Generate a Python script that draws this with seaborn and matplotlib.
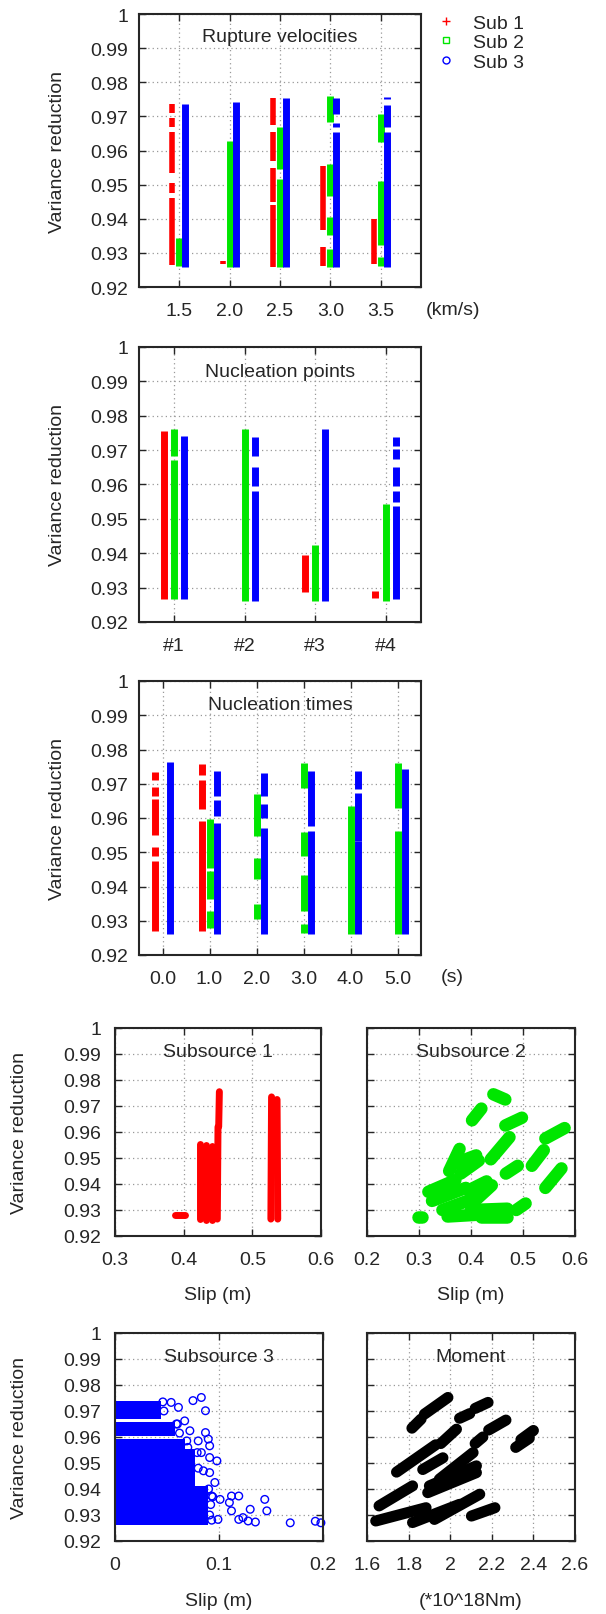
import matplotlib
matplotlib.use("Agg")
import matplotlib.pyplot as plt
import seaborn as sns
import pandas as pd
from matplotlib.lines import Line2D
from matplotlib.ticker import FuncFormatter

sns.set_style("ticks")
plt.rcParams["font.family"] = ["Liberation Sans", "DejaVu Sans"]
FS = 14
plt.rcParams["font.size"] = FS

RED, GREEN, BLUE = "#ff0000", "#00e600", "#0000ff"

# ---- rupture velocities: (lo, hi) runs of variance reduction per category
rv_x = [1.5, 2.0, 2.5, 3.0, 3.5]
rv_labels = ["1.5", "2.0", "2.5", "3.0", "3.5"]
rv_sub1 = [
    [(0.9265, 0.946), (0.9475, 0.9505), (0.9535, 0.9655), (0.967, 0.9695), (0.971, 0.9735)],
    [(0.9266, 0.9276)],
    [(0.926, 0.944), (0.945, 0.955), (0.957, 0.9655), (0.9675, 0.9755)],
    [(0.9263, 0.9317), (0.9366, 0.9556)],
    [(0.9268, 0.940)],
]
rv_sub2 = [
    [(0.9263, 0.9343)],
    [(0.9259, 0.9629)],
    [(0.926, 0.9517), (0.9546, 0.9668)],
    [(0.926, 0.931), (0.9351, 0.9405), (0.9468, 0.9561), (0.9683, 0.9761)],
    [(0.9263, 0.9288), (0.9322, 0.9512), (0.9624, 0.9707)],
]
rv_sub3 = [
    [(0.9259, 0.9737)],
    [(0.9259, 0.9741)],
    [(0.926, 0.9753)],
    [(0.926, 0.9654), (0.9668, 0.968), (0.9707, 0.9755)],
    [(0.926, 0.9654), (0.9668, 0.9734), (0.975, 0.9758)],
]

# ---- nucleation points
np_x = [1, 2, 3, 4]
np_labels = ["#1", "#2", "#3", "#4"]
np_sub1 = [[(0.9266, 0.9757)], [], [(0.9286, 0.9394)], [(0.9271, 0.929)]]
np_sub2 = [[(0.9266, 0.967), (0.9684, 0.9762)], [(0.9261, 0.9762)],
           [(0.9261, 0.9424)], [(0.9261, 0.9543)]]
np_sub3 = [[(0.9266, 0.9742)],
           [(0.9261, 0.9582), (0.9597, 0.965), (0.9684, 0.9738)],
           [(0.9261, 0.9762)],
           [(0.9266, 0.9538), (0.9548, 0.958), (0.9597, 0.965), (0.9674, 0.9704), (0.9713, 0.9738)]]

# ---- nucleation times
nt_x = [0, 1, 2, 3, 4, 5]
nt_labels = ["0.0", "1.0", "2.0", "3.0", "4.0", "5.0"]
nt_sub1 = [[(0.927, 0.9475), (0.949, 0.9515), (0.955, 0.9655), (0.9665, 0.969), (0.971, 0.9735)],
           [(0.927, 0.959), (0.9625, 0.971), (0.9725, 0.9757)],
           [], [], [], []]
nt_sub2 = [[],
           [(0.928, 0.9328), (0.9363, 0.9445), (0.9455, 0.9596)],
           [(0.9304, 0.9348), (0.9421, 0.9484), (0.9547, 0.9669)],
           [(0.9265, 0.929), (0.9328, 0.9435), (0.9489, 0.9559), (0.9689, 0.9761)],
           [(0.926, 0.9635)],
           [(0.926, 0.9562), (0.963, 0.9761)]]
nt_sub3 = [[(0.926, 0.9763)],
           [(0.926, 0.9586), (0.9606, 0.9654), (0.9664, 0.9737)],
           [(0.926, 0.9572), (0.960, 0.964), (0.9664, 0.9732)],
           [(0.926, 0.9562), (0.9577, 0.9737)],
           [(0.926, 0.9533), (0.9533, 0.9674), (0.9684, 0.9737)],
           [(0.926, 0.9742)]]

# ---- subsource 1: slip runs (x0, y0, x1, y1)
s1_runs = [
    (0.388, 0.928, 0.402, 0.928),
    (0.424, 0.9265, 0.424, 0.9555),
    (0.433, 0.9262, 0.433, 0.955),
    (0.441, 0.9262, 0.441, 0.9545),
    (0.449, 0.9265, 0.450, 0.962),
    (0.451, 0.962, 0.452, 0.9755),
    (0.527, 0.9265, 0.528, 0.9735),
    (0.537, 0.9265, 0.536, 0.9725),
]

# ---- subsource 2: clusters (x0, y0, x1, y1)
s2_runs = [
    (0.298, 0.9275, 0.305, 0.9275),
    (0.443, 0.9745, 0.466, 0.9725),
    (0.402, 0.9645, 0.420, 0.9690),
    (0.466, 0.9625, 0.498, 0.9655),
    (0.438, 0.9495, 0.474, 0.9580),
    (0.467, 0.9440, 0.490, 0.9470),
    (0.517, 0.9470, 0.540, 0.9530),
    (0.543, 0.9575, 0.580, 0.9615),
    (0.543, 0.9385, 0.574, 0.9460),
    (0.487, 0.9300, 0.505, 0.9325),
    (0.318, 0.9370, 0.370, 0.9415),
    (0.325, 0.9335, 0.390, 0.9385),
    (0.345, 0.9300, 0.400, 0.9340),
    (0.355, 0.9275, 0.440, 0.9285),
    (0.400, 0.9300, 0.470, 0.9305),
    (0.420, 0.9275, 0.470, 0.9275),
    (0.410, 0.9340, 0.440, 0.9395),
    (0.395, 0.9375, 0.430, 0.9410),
    (0.358, 0.9450, 0.378, 0.9535),
    (0.380, 0.9440, 0.415, 0.9490),
    (0.370, 0.9480, 0.410, 0.9510),
]

# ---- subsource 3: filled bands (lo, hi, max slip) and scattered solutions
s3_band_lo = [0.9670, 0.9605, 0.9553, 0.9412, 0.9262]
s3_band_hi = [0.9738, 0.9656, 0.9592, 0.9553, 0.9412]
s3_band_xmax = [0.044, 0.058, 0.067, 0.077, 0.089]
s3_x = [0.054, 0.061, 0.075, 0.083, 0.087, 0.059, 0.067, 0.072, 0.087, 0.0897,
        0.080, 0.091, 0.083, 0.091, 0.098, 0.085, 0.091, 0.096, 0.093, 0.101,
        0.112, 0.119, 0.110, 0.112, 0.099, 0.119, 0.123, 0.128, 0.135, 0.130,
        0.144, 0.146, 0.1685, 0.1926, 0.198,
        0.046, 0.047, 0.060, 0.062, 0.069, 0.070, 0.079, 0.080, 0.090, 0.092,
        0.091, 0.093, 0.094]
s3_y = [0.9733, 0.9714, 0.9740, 0.9752, 0.9701, 0.9650, 0.9662, 0.9624, 0.9617, 0.9592,
        0.9585, 0.9566, 0.9540, 0.9521, 0.9508, 0.9470, 0.9463, 0.9425, 0.9373, 0.9360,
        0.9373, 0.9373, 0.9348, 0.9316, 0.9283, 0.9283, 0.9290, 0.9277, 0.9273, 0.9322,
        0.9360, 0.9316, 0.9270, 0.9276, 0.9270,
        0.9735, 0.9700, 0.9650, 0.9615, 0.9585, 0.9560, 0.9540, 0.9480, 0.9400, 0.9340,
        0.9300, 0.9280, 0.9370]

# ---- moment clusters (x0, y0, x1, y1)
mo_runs = [
    (1.816, 0.9634, 1.860, 0.9669),
    (1.876, 0.9688, 1.989, 0.9752),
    (2.045, 0.9672, 2.094, 0.9690),
    (2.120, 0.9710, 2.182, 0.9733),
    (2.185, 0.9627, 2.268, 0.9665),
    (2.315, 0.9560, 2.380, 0.9595),
    (2.340, 0.9590, 2.400, 0.9625),
    (1.742, 0.9465, 1.930, 0.9570),
    (1.955, 0.9575, 2.030, 0.9630),
    (1.868, 0.9475, 1.965, 0.9520),
    (1.948, 0.9438, 2.110, 0.9540),
    (2.120, 0.9575, 2.157, 0.9600),
    (1.900, 0.9412, 2.126, 0.9489),
    (1.892, 0.9386, 2.126, 0.9463),
    (1.658, 0.9335, 1.819, 0.9412),
    (1.642, 0.9277, 1.884, 0.9328),
    (1.819, 0.9271, 2.045, 0.9341),
    (1.924, 0.9283, 2.142, 0.9380),
    (2.102, 0.9296, 2.215, 0.9328),
]

W, H = 606, 1615
fig = plt.figure(figsize=(W / 100, H / 100), dpi=100)


def box(l, r, t, b):
    return [l / W, 1 - b / H, (r - l) / W, (b - t) / H]


fmt = FuncFormatter(lambda v, p: "%g" % round(v, 4))


def style(ax, left_labels=True, ypad=8, xpad=11):
    ax.set_ylim(0.92, 1.0)
    ax.set_yticks([0.92 + 0.01 * i for i in range(9)])
    ax.yaxis.set_major_formatter(fmt)
    ax.grid(True, color="#999999", linestyle=(0, (1, 2.5)), linewidth=0.9)
    ax.set_axisbelow(True)
    for s in ax.spines.values():
        s.set_linewidth(1.5)
        s.set_visible(True)
    ax.tick_params(direction="in", length=5, width=1, top=True, right=True,
                   labelleft=left_labels, labelsize=FS)
    ax.tick_params(axis="y", pad=ypad)
    ax.tick_params(axis="x", pad=xpad)


def columns(ax, xs, groups, offsets, widths):
    for grp, off, col, lw in zip(groups, offsets, [RED, GREEN, BLUE], widths):
        for x, segs in zip(xs, grp):
            for lo, hi in segs:
                ax.vlines(x + off, lo, hi, colors=col, linewidth=lw)


def runs(ax, segs, col, lw):
    for x0, y0, x1, y1 in segs:
        ax.plot([x0, x1], [y0, y1], color=col, linewidth=lw, solid_capstyle="round")


# panel 1
ax1 = fig.add_axes(box(139, 421, 15, 288))
columns(ax1, rv_x, [rv_sub1, rv_sub2, rv_sub3], [-0.07, 0.0, 0.06], [4, 5, 5])
ax1.set_xlim(1.1, 3.9)
ax1.set_xticks(rv_x, rv_labels)
style(ax1)
ax1.text(0.5, 0.916, "Rupture velocities", transform=ax1.transAxes, ha="center", va="center")
ax1.text(1.113, -0.084, "(km/s)", transform=ax1.transAxes, ha="center", va="center")
ax1.set_ylabel("Variance reduction")
ax1.yaxis.set_label_coords(-0.26, 0.5)
handles = [
    Line2D([], [], ls="none", marker="+", color=RED, markersize=6, mew=1),
    Line2D([], [], ls="none", marker="s", color=GREEN, mfc="none", markersize=5, mew=1),
    Line2D([], [], ls="none", marker="o", color=BLUE, mfc="none", markersize=5, mew=1),
]
fig.legend(handles, ["Sub 1", "Sub 2", "Sub 3"], loc="upper left",
           bbox_to_anchor=(436 / W, 1 - 15 / H), bbox_transform=fig.transFigure,
           frameon=False, borderpad=0, borderaxespad=0, handlelength=1.0,
           handletextpad=0.9, labelspacing=0.1, fontsize=FS)

# panel 2
ax2 = fig.add_axes(box(139, 421, 348, 623))
columns(ax2, np_x, [np_sub1, np_sub2, np_sub3], [-0.15, 0.0, 0.14], [5, 5, 5])
ax2.set_xlim(0.5, 4.5)
ax2.set_xticks(np_x, np_labels)
style(ax2)
ax2.text(0.5, 0.91, "Nucleation points", transform=ax2.transAxes, ha="center", va="center")
ax2.set_ylabel("Variance reduction")
ax2.yaxis.set_label_coords(-0.26, 0.5)

# panel 3
ax3 = fig.add_axes(box(139, 421, 682, 956))
columns(ax3, nt_x, [nt_sub1, nt_sub2, nt_sub3], [-0.17, 0.0, 0.15], [5, 5, 5])
ax3.set_xlim(-0.5, 5.5)
ax3.set_xticks(nt_x, nt_labels)
style(ax3)
ax3.text(0.5, 0.913, "Nucleation times", transform=ax3.transAxes, ha="center", va="center")
ax3.text(1.11, -0.08, "(s)", transform=ax3.transAxes, ha="center", va="center")
ax3.set_ylabel("Variance reduction")
ax3.yaxis.set_label_coords(-0.26, 0.5)

# subsource 1
ax4 = fig.add_axes(box(115, 321, 1029, 1237))
runs(ax4, s1_runs, RED, 5)
ax4.set_xlim(0.3, 0.6)
ax4.set_xticks([0.3, 0.4, 0.5, 0.6])
ax4.xaxis.set_major_formatter(fmt)
style(ax4, ypad=10, xpad=11)
ax4.text(0.5, 0.885, "Subsource 1", transform=ax4.transAxes, ha="center", va="center")
ax4.text(0.5, -0.279, "Slip (m)", transform=ax4.transAxes, ha="center", va="center")
ax4.set_ylabel("Variance reduction")
ax4.yaxis.set_label_coords(-0.42, 0.5)

# subsource 2
ax5 = fig.add_axes(box(367, 575, 1029, 1237))
runs(ax5, s2_runs, GREEN, 9)
ax5.set_xlim(0.2, 0.6)
ax5.set_xticks([0.2, 0.3, 0.4, 0.5, 0.6])
ax5.xaxis.set_major_formatter(fmt)
style(ax5, left_labels=False, xpad=11)
ax5.text(0.5, 0.885, "Subsource 2", transform=ax5.transAxes, ha="center", va="center")
ax5.text(0.5, -0.279, "Slip (m)", transform=ax5.transAxes, ha="center", va="center")

# subsource 3
ax6 = fig.add_axes(box(115, 323, 1334, 1542))
for lo, hi, xm in zip(s3_band_lo, s3_band_hi, s3_band_xmax):
    ax6.fill_betweenx([lo, hi], 0, xm, color=BLUE, linewidth=0)
s3 = pd.DataFrame({"slip": s3_x, "vr": s3_y})
sns.scatterplot(data=s3, x="slip", y="vr", ax=ax6, marker="o", s=30,
                facecolor="none", edgecolor=BLUE, linewidth=1, clip_on=False)
ax6.set_xlim(0, 0.2)
ax6.set_xticks([0, 0.1, 0.2])
ax6.xaxis.set_major_formatter(fmt)
style(ax6, ypad=10, xpad=11)
ax6.set_xlabel("")
ax6.set_ylabel("Variance reduction")
ax6.yaxis.set_label_coords(-0.42, 0.5)
ax6.text(0.5, 0.885, "Subsource 3", transform=ax6.transAxes, ha="center", va="center")
ax6.text(0.5, -0.288, "Slip (m)", transform=ax6.transAxes, ha="center", va="center")

# moment
ax7 = fig.add_axes(box(367, 575, 1334, 1542))
runs(ax7, mo_runs, "black", 8)
ax7.set_xlim(1.6, 2.6)
ax7.set_xticks([1.6, 1.8, 2.0, 2.2, 2.4, 2.6])
ax7.xaxis.set_major_formatter(fmt)
style(ax7, left_labels=False, xpad=11)
ax7.text(0.5, 0.885, "Moment", transform=ax7.transAxes, ha="center", va="center")
ax7.text(0.5, -0.288, "(*10^18Nm)", transform=ax7.transAxes, ha="center", va="center")

fig.savefig("out.png", dpi=100)
